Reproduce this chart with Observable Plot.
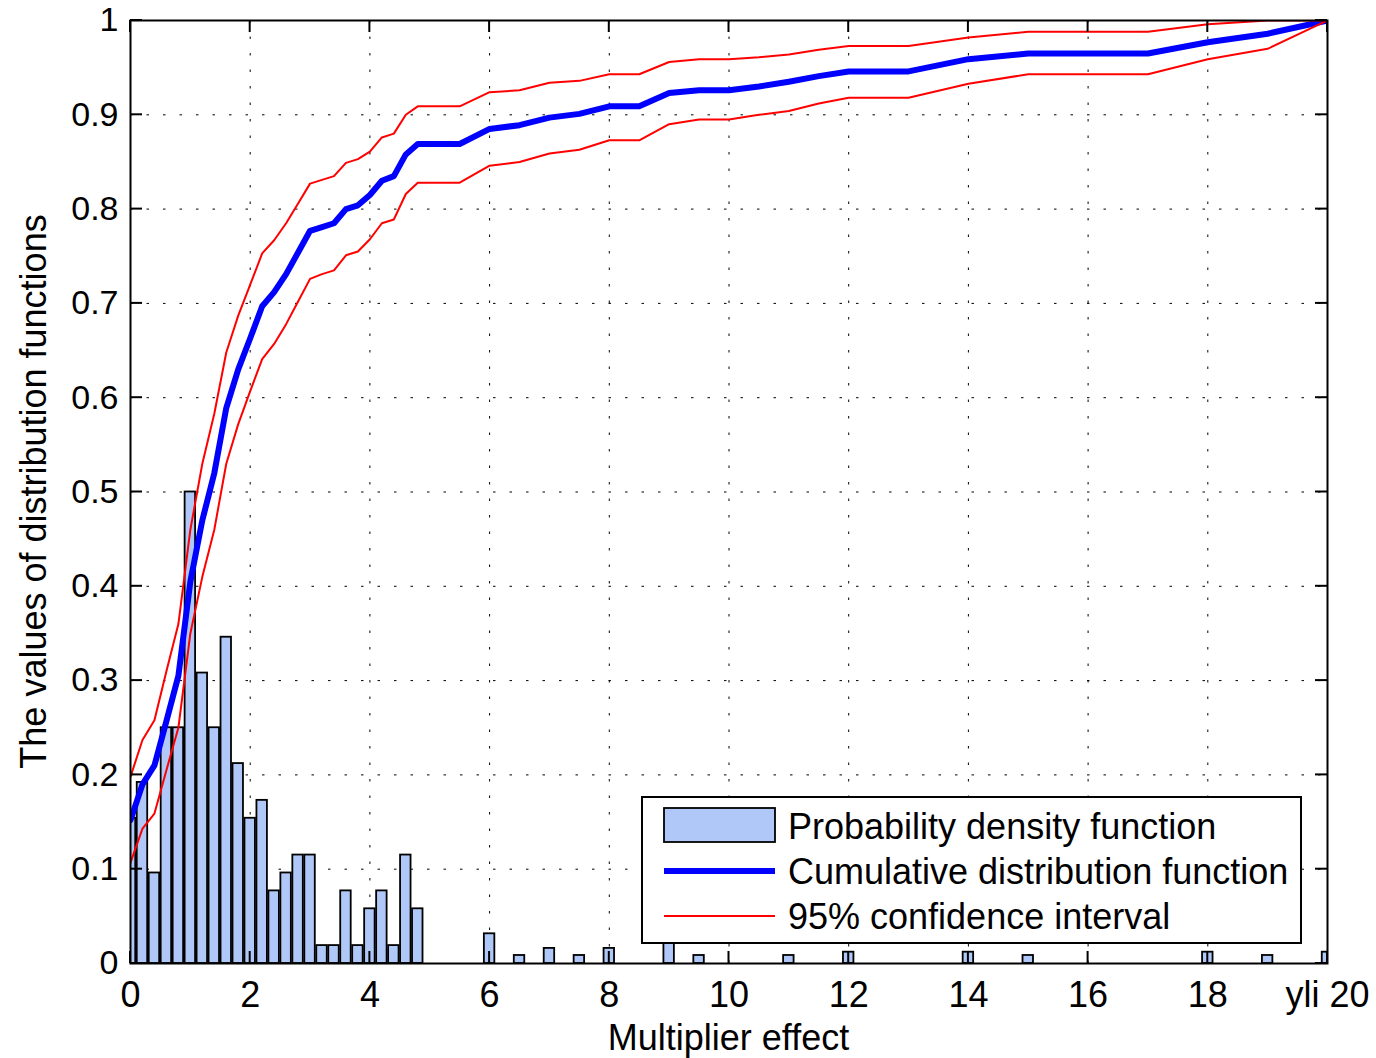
<!DOCTYPE html>
<html>
<head>
<meta charset="utf-8">
<script src="https://cdn.jsdelivr.net/npm/d3@7"></script>
<script src="https://cdn.jsdelivr.net/npm/@observablehq/plot@0.6"></script>
<style>
  html, body { margin: 0; padding: 0; background: #fff; }
  #chart { width: 1376px; height: 1058px; }
</style>
</head>
<body>
<div id="chart"></div>
<script>
// ---- Data ----
const barX = [0, 0.2, 0.4, 0.6, 0.8, 1.0, 1.2, 1.4, 1.6, 1.8, 2.0, 2.2, 2.4, 2.6, 2.8, 3.0, 3.2, 3.4, 3.6, 3.8, 4.0, 4.2, 4.4, 4.6, 4.8,
              6, 6.5, 7, 7.5, 8, 9, 9.5, 11, 12, 14, 15, 18, 19, 20];
const pdfValues = [0.154, 0.192, 0.096, 0.25, 0.25, 0.5, 0.308, 0.25, 0.346, 0.212, 0.154, 0.173, 0.077, 0.096, 0.115, 0.115, 0.019, 0.019, 0.077, 0.019, 0.058, 0.077, 0.019, 0.115, 0.058,
                   0.0315, 0.0085, 0.016, 0.0085, 0.016, 0.028, 0.0085, 0.0085, 0.012, 0.012, 0.0085, 0.012, 0.0085, 0.012];

const lineX = [0, 0.2, 0.4, 0.6, 0.8, 1.0, 1.2, 1.4, 1.6, 1.8, 2.0, 2.2, 2.4, 2.6, 2.8, 3.0, 3.2, 3.4, 3.6, 3.8, 4.0, 4.2, 4.4, 4.6, 4.8,
               5.5, 6, 6.5, 7, 7.5, 8, 8.5, 9, 9.5, 10, 10.5, 11, 11.5, 12, 13, 14, 15, 17, 18, 19, 20];
const cdfValues = [0.152, 0.190, 0.210, 0.257, 0.305, 0.405, 0.470, 0.520, 0.589, 0.630, 0.663, 0.697, 0.712, 0.731, 0.754, 0.777, 0.781, 0.785, 0.800, 0.804, 0.815, 0.830, 0.835, 0.858, 0.869,
                   0.869, 0.885, 0.889, 0.897, 0.901, 0.909, 0.909, 0.923, 0.926, 0.926, 0.930, 0.935, 0.941, 0.946, 0.946, 0.959, 0.965, 0.965, 0.977, 0.986, 1.0];
const upperValues = [0.198, 0.237, 0.258, 0.310, 0.360, 0.460, 0.530, 0.583, 0.648, 0.687, 0.720, 0.753, 0.767, 0.785, 0.806, 0.827, 0.831, 0.835, 0.849, 0.853, 0.861, 0.876, 0.880, 0.900, 0.909,
                     0.909, 0.924, 0.926, 0.934, 0.936, 0.943, 0.943, 0.956, 0.959, 0.959, 0.961, 0.964, 0.969, 0.973, 0.973, 0.982, 0.988, 0.988, 0.996, 1.0, 1.0];
const lowerValues = [0.107, 0.143, 0.159, 0.205, 0.250, 0.350, 0.410, 0.460, 0.530, 0.572, 0.607, 0.641, 0.657, 0.678, 0.702, 0.726, 0.731, 0.735, 0.751, 0.755, 0.768, 0.785, 0.789, 0.816, 0.828,
                     0.828, 0.846, 0.850, 0.859, 0.863, 0.873, 0.873, 0.890, 0.895, 0.895, 0.900, 0.904, 0.912, 0.918, 0.918, 0.933, 0.943, 0.943, 0.959, 0.970, 1.0];

const xTicks = [0, 2, 4, 6, 8, 10, 12, 14, 16, 18, 20];
const xTickLabels = ["0", "2", "4", "6", "8", "10", "12", "14", "16", "18", "yli 20"];
const yTicks = [0, 0.1, 0.2, 0.3, 0.4, 0.5, 0.6, 0.7, 0.8, 0.9, 1];
const yTickLabels = ["0", "0.1", "0.2", "0.3", "0.4", "0.5", "0.6", "0.7", "0.8", "0.9", "1"];
const legendLabels = ["Probability density function", "Cumulative distribution function", "95% confidence interval"];
const xLabel = "Multiplier effect";
const yLabel = "The values of distribution functions";

// ---- Tables built from the arrays ----
const bars = barX.map((x, i) => ({x, v: pdfValues[i]}));
const cdf = lineX.map((x, i) => ({x, v: cdfValues[i]}));
const upper = lineX.map((x, i) => ({x, v: upperValues[i]}));
const lower = lineX.map((x, i) => ({x, v: lowerValues[i]}));

const barW = 0.175;
const barFill = "#b0c8f8";
const font = "'Liberation Sans', Arial, sans-serif";
const gridStyle = {stroke: "#000", strokeOpacity: 1, strokeWidth: 1, strokeDasharray: "2.5,14"};

const plot = Plot.plot({
  width: 1376,
  height: 1058,
  marginLeft: 130,
  marginRight: 49,
  marginTop: 20,
  marginBottom: 95,
  style: {fontFamily: font, background: "#fff", color: "#000"},
  x: {domain: [0, 20]},
  y: {domain: [0, 1]},
  marks: [
    Plot.gridX(xTicks, gridStyle),
    Plot.gridY(yTicks, gridStyle),
    Plot.rect(bars, {x1: d => d.x - barW / 2, x2: d => d.x + barW / 2, y1: 0, y2: "v",
      fill: barFill, stroke: "#000", strokeWidth: 1.8, clip: true}),
    Plot.line(cdf, {x: "x", y: "v", stroke: "#0000ff", strokeWidth: 6, clip: true}),
    Plot.line(upper, {x: "x", y: "v", stroke: "#ff0000", strokeWidth: 2, clip: true}),
    Plot.line(lower, {x: "x", y: "v", stroke: "#ff0000", strokeWidth: 2, clip: true}),
    Plot.axisX(xTicks, {tickSize: 0, tickPadding: 18, fontSize: 36, label: null,
      tickFormat: d => xTickLabels[xTicks.indexOf(d)]}),
    Plot.axisY(yTicks, {tickSize: 0, tickPadding: 12, fontSize: 34, label: null,
      tickFormat: d => yTickLabels[yTicks.indexOf(d)]}),
    Plot.frame({stroke: "#000", strokeWidth: 2})
  ]
});

document.getElementById("chart").appendChild(plot);

// ---- Inward ticks on all four sides, axis titles and legend ----
const svg = d3.select(plot);
const sx = plot.scale("x"), sy = plot.scale("y");
const [x0, x1] = sx.range;
const [y0, y1] = sy.range; // y0 bottom, y1 top
const tl = 12;
const tg = svg.append("g").attr("stroke", "#000").attr("stroke-width", 2);
xTicks.forEach(v => {
  const px = sx.apply(v);
  tg.append("line").attr("x1", px).attr("x2", px).attr("y1", y0).attr("y2", y0 - tl);
  tg.append("line").attr("x1", px).attr("x2", px).attr("y1", y1).attr("y2", y1 + tl);
});
yTicks.forEach(v => {
  const py = sy.apply(v);
  tg.append("line").attr("x1", x0).attr("x2", x0 + tl).attr("y1", py).attr("y2", py);
  tg.append("line").attr("x1", x1).attr("x2", x1 - tl).attr("y1", py).attr("y2", py);
});

svg.append("text")
  .attr("x", (x0 + x1) / 2).attr("y", 1050)
  .attr("text-anchor", "middle")
  .attr("font-family", font).attr("font-size", 36).attr("fill", "#000")
  .text(xLabel);
svg.append("text")
  .attr("transform", `translate(46,${(y0 + y1) / 2}) rotate(-90)`)
  .attr("text-anchor", "middle")
  .attr("font-family", font).attr("font-size", 36).attr("fill", "#000")
  .text(yLabel);

// Legend box
const lg = svg.append("g");
lg.append("rect").attr("x", 642).attr("y", 797).attr("width", 659).attr("height", 146)
  .attr("fill", "#fff").attr("stroke", "#000").attr("stroke-width", 2);
lg.append("rect").attr("x", 664).attr("y", 808).attr("width", 111).attr("height", 34)
  .attr("fill", barFill).attr("stroke", "#000").attr("stroke-width", 1.8);
lg.append("line").attr("x1", 664).attr("x2", 775).attr("y1", 871).attr("y2", 871)
  .attr("stroke", "#0000ff").attr("stroke-width", 6);
lg.append("line").attr("x1", 664).attr("x2", 775).attr("y1", 916).attr("y2", 916)
  .attr("stroke", "#ff0000").attr("stroke-width", 2);
legendLabels.forEach((t, i) => {
  lg.append("text").attr("x", 788).attr("y", 826 + i * 45)
    .attr("dy", "0.35em")
    .attr("text-anchor", "start")
    .attr("font-family", font).attr("font-size", 36).attr("fill", "#000")
    .text(t);
});
</script>
</body>
</html>
